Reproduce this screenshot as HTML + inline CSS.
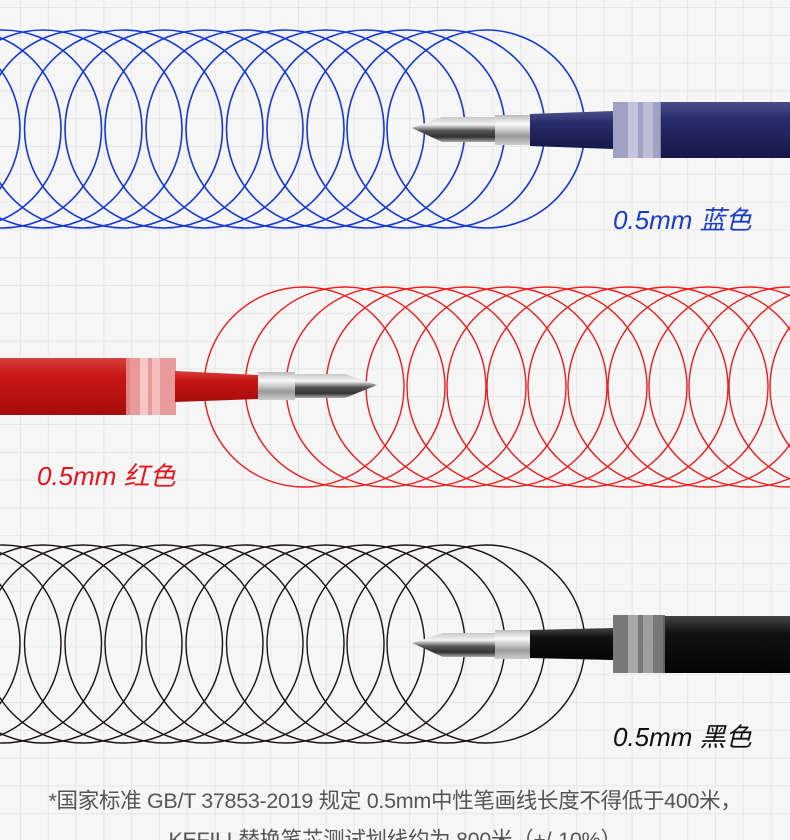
<!DOCTYPE html>
<html><head><meta charset="utf-8"><style>
html,body{margin:0;padding:0;background:#f6f6f6;}
svg{display:block}
</style></head><body>
<svg width="790" height="840" viewBox="0 0 790 840" xmlns="http://www.w3.org/2000/svg">
<defs>
<pattern id="g" x="20" y="7" width="27.8" height="27.8" patternUnits="userSpaceOnUse">
<path d="M0 0V27.8M0 0H27.8" stroke="#e6e6e6" stroke-width="2" fill="none"/>
</pattern>
<linearGradient id="metal" x1="0" y1="0" x2="0" y2="1">
<stop offset="0" stop-color="#c8c8c8"/><stop offset="0.3" stop-color="#f4f4f4"/><stop offset="0.55" stop-color="#555"/><stop offset="0.8" stop-color="#333"/><stop offset="1" stop-color="#aaa"/>
</linearGradient>
<linearGradient id="collar" x1="0" y1="0" x2="0" y2="1">
<stop offset="0" stop-color="#bbb"/><stop offset="0.3" stop-color="#fafafa"/><stop offset="0.7" stop-color="#999"/><stop offset="1" stop-color="#ccc"/>
</linearGradient>
<linearGradient id="blue" x1="0" y1="0" x2="0" y2="1">
<stop offset="0" stop-color="#4a4f8a"/><stop offset="0.3" stop-color="#2a2d6c"/><stop offset="1" stop-color="#161848"/>
</linearGradient>
<linearGradient id="red" x1="0" y1="0" x2="0" y2="1">
<stop offset="0" stop-color="#d84040"/><stop offset="0.3" stop-color="#c81818"/><stop offset="1" stop-color="#a80c0c"/>
</linearGradient>
<linearGradient id="blk" x1="0" y1="0" x2="0" y2="1">
<stop offset="0" stop-color="#444"/><stop offset="0.3" stop-color="#111"/><stop offset="1" stop-color="#050505"/>
</linearGradient>
</defs>
<rect width="790" height="840" fill="#f6f6f6"/>
<rect width="790" height="840" fill="url(#g)"/>

<g fill="none" stroke="#1438d8" stroke-width="1.6">
<circle cx="-119" cy="129" r="99"/><circle cx="-79" cy="129" r="99"/><circle cx="-38" cy="129" r="99"/>
<circle cx="2.5" cy="129" r="99"/><circle cx="43" cy="129" r="99"/><circle cx="83" cy="129" r="99"/>
<circle cx="123.5" cy="129" r="99"/><circle cx="164" cy="129" r="99"/><circle cx="204" cy="129" r="99"/>
<circle cx="245" cy="129" r="99"/><circle cx="285" cy="129" r="99"/><circle cx="325.5" cy="129" r="99"/>
<circle cx="366" cy="129" r="99"/><circle cx="406" cy="129" r="99"/><circle cx="446" cy="129" r="99"/>
<circle cx="486" cy="129" r="99"/>
</g>
<g>
<rect x="660" y="102" width="130" height="56" fill="url(#blue)"/>
<rect x="613" y="102" width="48" height="56" fill="#8f93b8" opacity="0.85"/>
<rect x="628" y="102" width="10" height="56" fill="#d8daea" opacity="0.6"/>
<rect x="643" y="102" width="10" height="56" fill="#d8daea" opacity="0.5"/>
<path d="M530 114 L613 111 L613 149 L530 146 Z" fill="url(#blue)"/>
<rect x="495" y="115" width="35" height="30" fill="url(#collar)"/>
<rect x="442" y="117" width="53" height="25" fill="url(#metal)"/>
<path d="M412 128 L442 117 L442 142 Z" fill="url(#metal)"/>
</g>
<text x="613" y="229" font-family="Liberation Sans, Noto Sans CJK SC, sans-serif" font-size="26" font-style="italic" fill="#1a3ccc">0.5mm 蓝色</text>

<g fill="none" stroke="#ee1c1c" stroke-width="1.4">
<circle cx="304" cy="387" r="100"/><circle cx="345" cy="387" r="100"/><circle cx="386" cy="387" r="100"/>
<circle cx="426" cy="387" r="100"/><circle cx="466" cy="387" r="100"/><circle cx="507" cy="387" r="100"/>
<circle cx="547" cy="387" r="100"/><circle cx="587" cy="387" r="100"/><circle cx="628" cy="387" r="100"/>
<circle cx="668" cy="387" r="100"/><circle cx="708" cy="387" r="100"/><circle cx="749" cy="387" r="100"/>
<circle cx="789" cy="387" r="100"/><circle cx="829" cy="387" r="100"/><circle cx="870" cy="387" r="100"/>
</g>
<g>
<rect x="0" y="358" width="130" height="57" fill="url(#red)"/>
<rect x="126" y="358" width="50" height="57" fill="#e89090" opacity="0.9"/>
<rect x="140" y="358" width="8" height="57" fill="#f8d8d8" opacity="0.7"/>
<rect x="152" y="358" width="8" height="57" fill="#f8d8d8" opacity="0.6"/>
<path d="M175 371 L258 375 L258 399 L175 402 Z" fill="url(#red)"/>
<rect x="258" y="372" width="37" height="28" fill="url(#collar)"/>
<rect x="295" y="374" width="50" height="24" fill="url(#metal)"/>
<path d="M377 385 L345 374 L345 398 Z" fill="url(#metal)"/>
</g>
<text x="37" y="485" font-family="Liberation Sans, Noto Sans CJK SC, sans-serif" font-size="26" font-style="italic" fill="#e8141c">0.5mm 红色</text>

<g fill="none" stroke="#1a1212" stroke-width="1.4">
<circle cx="-119" cy="644" r="99"/><circle cx="-79" cy="644" r="99"/><circle cx="-38" cy="644" r="99"/>
<circle cx="2.5" cy="644" r="99"/><circle cx="43" cy="644" r="99"/><circle cx="83" cy="644" r="99"/>
<circle cx="123.5" cy="644" r="99"/><circle cx="164" cy="644" r="99"/><circle cx="204" cy="644" r="99"/>
<circle cx="245" cy="644" r="99"/><circle cx="285" cy="644" r="99"/><circle cx="325.5" cy="644" r="99"/>
<circle cx="366" cy="644" r="99"/><circle cx="406" cy="644" r="99"/><circle cx="446" cy="644" r="99"/>
<circle cx="486" cy="644" r="99"/>
</g>
<g>
<rect x="663" y="616" width="127" height="57" fill="url(#blk)"/>
<rect x="613" y="615" width="52" height="58" fill="#6a6a6a" opacity="0.9"/>
<rect x="628" y="615" width="10" height="58" fill="#cfcfcf" opacity="0.55"/>
<rect x="643" y="615" width="10" height="58" fill="#cfcfcf" opacity="0.45"/>
<path d="M530 630 L613 628 L613 660 L530 658 Z" fill="url(#blk)"/>
<rect x="495" y="630" width="35" height="29" fill="url(#collar)"/>
<rect x="443" y="633" width="52" height="24" fill="url(#metal)"/>
<path d="M412 643 L443 633 L443 657 Z" fill="url(#metal)"/>
</g>
<text x="613" y="746" font-family="Liberation Sans, Noto Sans CJK SC, sans-serif" font-size="26" font-style="italic" fill="#111">0.5mm 黑色</text>

<g font-family="Liberation Sans, Noto Sans CJK SC, sans-serif" font-size="21.5" fill="#555" text-anchor="middle" letter-spacing="-0.3">
<text x="395" y="808">*国家标准 GB/T 37853-2019 规定 0.5mm中性笔画线长度不得低于400米，</text>
<text x="395" y="847">KEFILL替换笔芯测试划线约为 800米（+/-10%）</text>
</g>
</svg>
</body></html>
